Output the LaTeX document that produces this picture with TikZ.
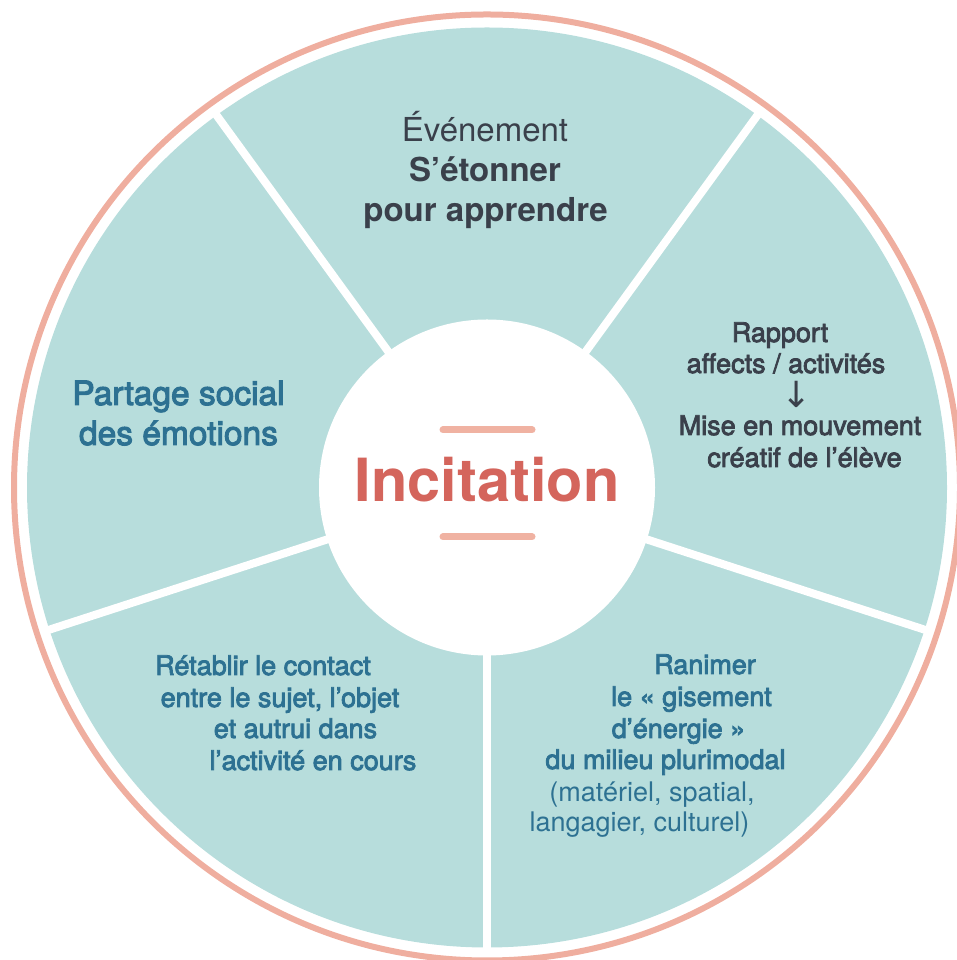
\documentclass[tikz,border=0pt]{standalone}
\usepackage{fontspec}
\setmainfont{TeX Gyre Heros}
\newfontfamily\medfont{TeX Gyre Heros}[FakeBold=3]
\newfontfamily\arrowfont{DejaVu Sans}
\definecolor{tealfill}{HTML}{B7DDDC}
\definecolor{ringcol}{HTML}{EFAE9F}
\definecolor{barcol}{HTML}{F0B2A2}
\definecolor{redtxt}{HTML}{D4655C}
\definecolor{darktxt}{HTML}{3A404B}
\definecolor{tealtxt}{HTML}{2D7192}
\tikzset{
  txt/.style={anchor=base, inner sep=0pt, outer sep=0pt},
  big/.style={txt, font=\fontsize{33}{40}\selectfont},
  bigmed/.style={txt, font=\fontsize{33.5}{40}\medfont},
  bigbold/.style={txt, font=\fontsize{33}{40}\selectfont\bfseries},
  small/.style={txt, font=\fontsize{27}{32}\selectfont},
  smallmed/.style={txt, font=\fontsize{27}{32}\medfont},
  divider/.style={white, line width=8pt},
  bar/.style={barcol, line width=7pt, line cap=round}
}
\begin{document}
\begin{tikzpicture}[x=1pt,y=1pt]
\useasboundingbox (0,0) rectangle (957,960);
\coordinate (C) at (487,472.5);
% rings and disk
\draw[ringcol, line width=6pt] (C) circle[radius=473pt];
\fill[tealfill] (C) circle[radius=460pt];
\foreach \a in {54,126,198,270,342}
  \draw[divider] (C) -- ++(\a:466pt);
\fill[white] (C) circle[radius=168pt];
% centre
\node[txt, font=\fontsize{59.5}{60}\selectfont\bfseries, text=redtxt] (inc) at (487,458) {Incitation};
\coordinate (b1l) at (443,530); \coordinate (b1r) at (532,530);
\coordinate (b2l) at (443,423); \coordinate (b2r) at (532,423);
\draw[bar] (b1l) -- (b1r);
\draw[bar] (b2l) -- (b2r);
% top sector
\node[big, text=darktxt] (t1) at (485,818) {Événement};
\node[bigbold, text=darktxt] (t2) at (485,778) {S’étonner};
\node[bigbold, text=darktxt] (t3) at (485.5,738) {pour apprendre};
% left sector
\node[bigmed, text=tealtxt] (l1) at (178.5,555) {Partage social};
\node[bigmed, text=tealtxt] (l2) at (178.5,515) {des émotions};
% right sector
\node[smallmed, text=darktxt] (r1) at (780,618) {Rapport};
\node[smallmed, text=darktxt] (r2) at (786,587) {affects / activités};
\node[txt, text=darktxt, font=\fontsize{36}{36}\arrowfont] (r3) at (797,552) {\smash{↓}};
\node[smallmed, text=darktxt] (r4) at (800,525) {Mise en mouvement};
\node[smallmed, text=darktxt] (r5) at (804.5,493) {créatif de l’élève};
% bottom-left sector
\node[smallmed, text=tealtxt] (bl1) at (263,285) {Rétablir le contact};
\node[smallmed, text=tealtxt] (bl2) at (280,253) {entre le sujet, l’objet};
\node[smallmed, text=tealtxt] (bl3) at (295.5,222) {et autrui dans};
\node[smallmed, text=tealtxt] (bl4) at (313,190) {l’activité en cours};
% bottom-right sector
\node[smallmed, text=tealtxt] (br1) at (705,286) {Ranimer};
\node[smallmed, text=tealtxt] (br2) at (691.5,254) {le « gisement};
\node[smallmed, text=tealtxt] (br3) at (678.5,222) {d’énergie »};
\node[smallmed, text=tealtxt] (br4) at (665.5,191) {du milieu plurimodal};
\node[small, text=tealtxt] (br5) at (652,158) {(matériel, spatial,};
\node[small, text=tealtxt] (br6) at (639.5,128) {langagier, culturel)};
\end{tikzpicture}
\end{document}
